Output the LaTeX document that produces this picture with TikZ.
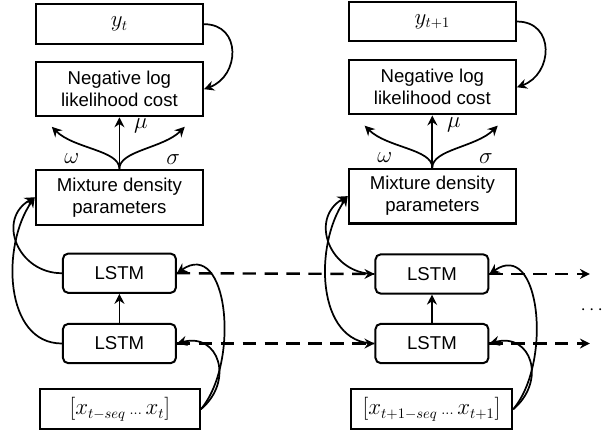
\documentclass[tikz,border=0pt]{standalone}
\usepackage{fontspec}
\setmainfont{Liberation Sans}
\usetikzlibrary{arrows.meta}

\begin{document}
\begin{tikzpicture}[font=\fontsize{14}{16.5}\selectfont,
    box/.style={rectangle,draw,line width=1.7pt,align=center,inner sep=2pt,minimum width=4.42cm},
    lstm/.style={rectangle,draw,rounded corners=4pt,line width=1.5pt,minimum width=2.99cm,minimum height=1.04cm},
    sym/.style={font=\fontsize{16}{18}\selectfont},
    arr/.style={-{Stealth[length=7.5pt,width=7.5pt,inset=2.5pt]},line width=1.3pt},
    dasharr/.style={arr,line width=1.8pt,dash pattern=on 10pt off 6.5pt}]
    \useasboundingbox (0,0) rectangle (15.93,11.54);
    % step t
    \node[box,sym,minimum height=1.06cm] (y1) at (3.16,10.90) {$y_t$};
    \node[box,minimum height=1.43cm] (nll1) at (3.16,9.18) {Negative log\\likelihood cost};
    \node[box,minimum height=1.45cm] (mdn1) at (3.16,6.32) {Mixture density\\parameters};
    \node[lstm] (up1) at (3.16,4.31) {LSTM};
    \node[lstm] (lo1) at (3.16,2.45) {LSTM};
    \node[box,sym,minimum width=4.23cm,minimum height=1.06cm] (in1) at (3.17,0.71) {$[x_{t-seq}\,{\scriptstyle\ldots}\,x_t]$};
    \node[sym] (w1) at ([shift={(-1.26,0.26)}]mdn1.north) {$\omega$};
    \node[sym] (m1) at ([shift={(0.57,1.13)}]mdn1.north) {$\mu$};
    \node[sym] (s1) at ([shift={(1.42,0.24)}]mdn1.north) {$\sigma$};
    % step t+1
    \node[box,sym,minimum height=1.04cm] (y2) at (11.44,10.97) {$y_{t+1}$};
    \node[box,minimum height=1.43cm] (nll2) at (11.44,9.23) {Negative log\\likelihood cost};
    \node[box,minimum height=1.45cm] (mdn2) at (11.44,6.35) {Mixture density\\parameters};
    \node[lstm] (up2) at (11.43,4.29) {LSTM};
    \node[lstm] (lo2) at (11.43,2.45) {LSTM};
    \node[box,sym,minimum width=4.26cm,minimum height=1.06cm] (in2) at (11.42,0.71) {$[x_{t+1-seq}\,{\scriptstyle\ldots}\,x_{t+1}]$};
    \node[sym] (w2) at ([shift={(-1.26,0.26)}]mdn2.north) {$\omega$};
    \node[sym] (m2) at ([shift={(0.57,1.13)}]mdn2.north) {$\mu$};
    \node[sym] (s2) at ([shift={(1.42,0.24)}]mdn2.north) {$\sigma$};
    \coordinate (e1) at (15.61,2.45);
    \coordinate (e2) at (15.61,4.29);
    \node (dots) at (15.66,3.32) {$\cdots$};
    % arrows
    \draw[arr] (y1.east) to[out=0,in=20,looseness=1.5] (nll1.east);
    \draw[arr] (mdn1.north) -- (nll1.south);
    \draw[arr] (mdn1.north) to[out=90,in=-45,out looseness=0.6] ([shift={(-1.79,1.11)}]mdn1.north);
    \draw[arr] (mdn1.north) to[out=90,in=-135,out looseness=0.6] ([shift={(1.73,1.11)}]mdn1.north);
    \draw[arr] (lo1.north) -- (up1.south);
    \draw[arr] (up1.west) to[out=180,in=210,looseness=1.4] (mdn1.west);
    \draw[arr] (lo1.west) to[out=180,in=235] (mdn1.west);
    \draw[arr] (in1.east) to[out=50,in=35,looseness=1.15] (up1.east);
    \draw[arr] (in1.east) to[out=40,in=15,looseness=1.6] (lo1.east);
    \draw[arr] (y2.east) to[out=0,in=20,looseness=1.5] (nll2.east);
    \draw[arr] (mdn2.north) -- (nll2.south);
    \draw[arr] (mdn2.north) to[out=90,in=-45,out looseness=0.6] ([shift={(-1.79,1.11)}]mdn2.north);
    \draw[arr] (mdn2.north) to[out=90,in=-135,out looseness=0.6] ([shift={(1.73,1.11)}]mdn2.north);
    \draw[arr] (lo2.north) -- (up2.south);
    \draw[arr] (up2.west) to[out=180,in=210,looseness=1.4] (mdn2.west);
    \draw[arr] (lo2.west) to[out=180,in=235] (mdn2.west);
    \draw[arr] (in2.east) to[out=50,in=35,looseness=1.15] (up2.east);
    \draw[arr] (in2.east) to[out=40,in=15,looseness=1.6] (lo2.east);
    \draw[dasharr] (up1.east) -- (up2.west);
    \draw[dasharr] (lo1.east) -- (lo2.west);
    \draw[dasharr] (up2.east) -- (e2);
    \draw[dasharr] (lo2.east) -- (e1);
\end{tikzpicture}
\end{document}
